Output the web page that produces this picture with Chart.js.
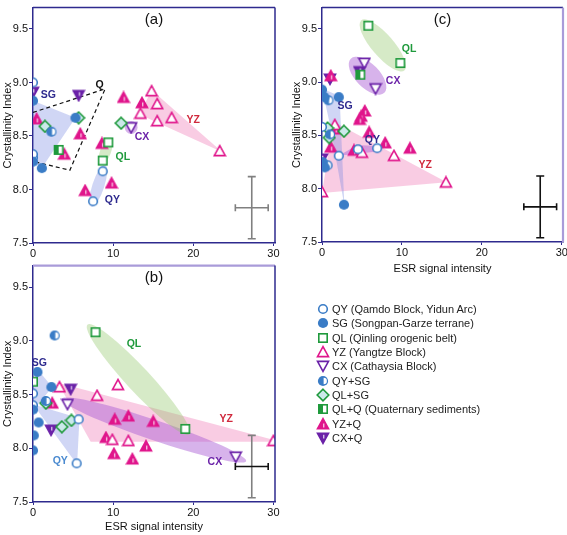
<!DOCTYPE html>
<html>
<head>
<meta charset="utf-8">
<script src="https://cdn.jsdelivr.net/npm/chart.js@4.4.1/dist/chart.umd.min.js"></script>
<style>
  body { margin: 0; background: #fff; width: 567px; height: 535px; overflow: hidden; position: relative;
         font-family: "Liberation Sans", Arial, sans-serif; }
  .panel { position: absolute; }
  #legend { position: absolute; left: 316px; top: 302px; font-size: 11px; color: #222; }
  #legend div { height: 14.3px; display: flex; align-items: center; white-space: nowrap; }
  #legend canvas { margin-right: 2px; }
</style>
</head>
<body>
<div class="panel" style="left:0;top:0"><canvas id="pa" width="285" height="258"></canvas></div>
<div class="panel" style="left:0;top:258px"><canvas id="pb" width="285" height="277"></canvas></div>
<div class="panel" style="left:289px;top:0"><canvas id="pc" width="280" height="280"></canvas></div>
<div id="legend"></div>
<script>
/* ── Colours ─────────────────────────────────────────────── */
const C = {
    blue: "#3a7cc6", green: "#1f9a3c", pink: "#e0168c", purple: "#6b22a8",
    navy: "#2e2a8e", lav: "#a99bd9", red: "#d0283c", lightBlue: "#4a8ad0",
};
const FILL = {
    blue: "rgba(112,132,226,0.33)", green: "rgba(140,196,100,0.36)",
    pink: "rgba(240,128,186,0.40)", purple: "rgba(172,96,214,0.48)",
};

/* ── Shared axis values ──────────────────────────────────── */
const X_TICKS = [0, 10, 20, 30];
const Y_TICKS = [7.5, 8.0, 8.5, 9.0, 9.5];
const GROUPS = ["SG", "QY", "QY+SG", "QL", "QL+SG", "QL+Q", "YZ", "YZ+Q", "CX", "CX+Q"];
const LEGEND_KEYS = ["QY", "SG", "QL", "YZ", "CX", "QY+SG", "QL+SG", "QL+Q", "YZ+Q", "CX+Q"];
const LEGEND_LABELS = [
    "QY (Qamdo Block, Yidun Arc)", "SG (Songpan-Garze terrane)", "QL (Qinling orogenic belt)",
    "YZ (Yangtze Block)", "CX (Cathaysia Block)", "QY+SG", "QL+SG",
    "QL+Q (Quaternary sediments)", "YZ+Q", "CX+Q",
];

/* ── Panel (a) data: [ESR, crystallinity] ────────────────── */
const aQY   = [[0, 9.0], [0, 8.33], [8.7, 8.17], [7.5, 7.89]];
const aSG   = [[0, 8.83], [5.3, 8.67], [0, 8.26], [1.1, 8.20]];
const aQYSG = [[2.3, 8.54], [0, 8.30]];
const aQL   = [[9.4, 8.44], [8.7, 8.27]];
const aQLSG = [[1.5, 8.59], [5.7, 8.67], [11.0, 8.62]];
const aQLQ  = [[3.2, 8.37]];
const aYZ   = [[14.8, 8.92], [15.5, 8.80], [13.4, 8.71], [15.5, 8.64], [17.3, 8.67], [23.3, 8.36]];
const aYZQ  = [[0.45, 8.66], [5.9, 8.52], [3.9, 8.33], [8.6, 8.43], [9.8, 8.06], [6.5, 7.99], [11.3, 8.86], [13.6, 8.81]];
const aCX   = [[12.25, 8.58]];
const aCXQ  = [[0, 8.91], [5.7, 8.88]];

/* ── Panel (b) data ──────────────────────────────────────── */
const bQY   = [[0, 8.51], [0, 8.40], [5.7, 8.27], [5.45, 7.86]];
const bSG   = [[0.55, 8.71], [2.3, 8.57], [0, 8.36], [0.7, 8.24], [0.1, 8.12], [0, 7.98]];
const bQYSG = [[2.7, 9.05], [1.6, 8.44]];
const bQL   = [[7.8, 9.08], [19.0, 8.18]];
const bQLSG = [[1.6, 8.42], [3.6, 8.20], [4.8, 8.26]];
const bQLQ  = [[0, 8.62]];
const bYZ   = [[3.3, 8.57], [8.0, 8.49], [10.6, 8.59], [9.9, 8.08], [11.9, 8.07], [30, 8.07]];
const bYZQ  = [[2.4, 8.42], [10.2, 8.27], [11.9, 8.30], [15.0, 8.25], [9.1, 8.10], [10.1, 7.95], [12.4, 7.90], [14.1, 8.02]];
const bCX   = [[4.3, 8.41], [25.3, 7.92]];
const bCXQ  = [[4.7, 8.55], [2.25, 8.17]];

/* ── Panel (c) data ──────────────────────────────────────── */
const cQY   = [[0, 8.58], [2.1, 8.31], [4.5, 8.37], [6.9, 8.38], [0.7, 8.22]];
const cSG   = [[0, 8.93], [0.3, 8.86], [2.1, 8.86], [2.75, 7.85], [0.1, 8.25], [0.35, 8.20]];
const cQYSG = [[0.8, 8.83], [1.0, 8.51]];
const cQL   = [[5.8, 9.53], [9.8, 9.18]];
const cQLSG = [[0.7, 8.57], [2.75, 8.54], [0.9, 8.48]];
const cQLQ  = [[4.8, 9.07]];
const cYZ   = [[1.6, 8.60], [5.0, 8.34], [9.0, 8.31], [15.5, 8.06], [0, 7.97]];
const cYZQ  = [[1.1, 9.06], [5.35, 8.73], [4.9, 8.68], [4.7, 8.65], [5.9, 8.53], [7.9, 8.43], [11.0, 8.38], [1.1, 8.39], [4.0, 8.36], [1.7, 8.56]];
const cCX   = [[5.3, 9.18], [6.7, 8.94]];
const cCXQ  = [[1.0, 9.03], [4.7, 9.10], [0, 8.28]];

/* ── Group outlines (data space) ─────────────────────────── */
const aRegSG = [[0, 8.83], [5.3, 8.67], [1.1, 8.20], [0, 8.26]];
const aRegYZ = [[14.8, 8.93], [13.3, 8.70], [23.6, 8.35]];
const aRegQ  = [[0, 8.72], [9.0, 8.94], [4.6, 8.18], [0.2, 8.26]];
const bRegSG = [[0.6, 8.73], [2.4, 8.57], [0, 8.35], [0, 8.62]];
const bRegQY = [[0, 8.41], [5.8, 8.28], [5.5, 7.85]];
const bRegYZ = [[3.1, 8.61], [30.4, 8.07], [30.4, 8.06], [7.2, 8.06]];
const cRegSG = [[0, 8.94], [2.2, 8.87], [2.8, 7.84], [1.0, 8.6]];
const cRegYZ = [[1.4, 8.63], [15.6, 8.06], [0, 7.96]];
const cRegQY = [[2.1, 8.31], [4.4, 8.41], [6.9, 8.40], [6.9, 8.35]];

/* ── Error bar (typical uncertainty) ─────────────────────── */
const ERR_X = 27.3, ERR_Y = 7.83, ERR_DX = 2.05, ERR_DY = 0.29;

/* ── Marker images ───────────────────────────────────────── */
function makeMarker(kind) {
    const c = document.createElement("canvas");
    c.width = 14; c.height = 14;
    const g = c.getContext("2d");
    g.lineWidth = 1.6;
    const tri = (up) => {
        g.beginPath();
        if (up) { g.moveTo(7, 1.6); g.lineTo(1.5, 11.6); g.lineTo(12.5, 11.6); }
        else { g.moveTo(7, 12.4); g.lineTo(1.5, 2.4); g.lineTo(12.5, 2.4); }
        g.closePath();
    };
    switch (kind) {
        case "QY":
            g.beginPath(); g.arc(7, 7, 4.3, 0, Math.PI * 2);
            g.fillStyle = "#fff"; g.fill(); g.strokeStyle = C.blue; g.stroke(); break;
        case "SG":
            g.beginPath(); g.arc(7, 7, 5.1, 0, Math.PI * 2); g.fillStyle = C.blue; g.fill(); break;
        case "QY+SG":
            g.beginPath(); g.arc(7, 7, 5.1, 0, Math.PI * 2); g.fillStyle = C.blue; g.fill();
            g.beginPath(); g.arc(7.6, 7, 3.3, -Math.PI / 2, Math.PI / 2); g.closePath();
            g.fillStyle = "#fff"; g.fill(); break;
        case "QL":
            g.fillStyle = "#fff"; g.fillRect(2.8, 2.8, 8.4, 8.4);
            g.strokeStyle = C.green; g.strokeRect(2.8, 2.8, 8.4, 8.4); break;
        case "QL+Q":
            g.fillStyle = "#fff"; g.fillRect(2.8, 2.8, 8.4, 8.4);
            g.fillStyle = C.green; g.fillRect(2.8, 2.8, 4.2, 8.4);
            g.strokeStyle = C.green; g.strokeRect(2.8, 2.8, 8.4, 8.4); break;
        case "QL+SG":
            g.beginPath(); g.moveTo(7, 1.2); g.lineTo(12.8, 7); g.lineTo(7, 12.8); g.lineTo(1.2, 7); g.closePath();
            g.fillStyle = "#cbe9ea"; g.fill(); g.strokeStyle = C.green; g.stroke(); break;
        case "YZ":
            tri(true); g.fillStyle = "#fff"; g.fill(); g.strokeStyle = C.pink; g.stroke(); break;
        case "YZ+Q":
            tri(true); g.fillStyle = C.pink; g.fill(); g.strokeStyle = C.pink; g.stroke();
            g.strokeStyle = "#fff"; g.lineWidth = 1; g.beginPath(); g.moveTo(7.8, 6.5); g.lineTo(7.8, 10.5); g.stroke(); break;
        case "CX":
            tri(false); g.fillStyle = "#fff"; g.fill(); g.strokeStyle = C.purple; g.stroke(); break;
        case "CX+Q":
            tri(false); g.fillStyle = C.purple; g.fill(); g.strokeStyle = C.purple; g.stroke();
            g.strokeStyle = "#fff"; g.lineWidth = 1; g.beginPath(); g.moveTo(7.8, 3.8); g.lineTo(7.8, 7.5); g.stroke(); break;
    }
    return c;
}
const MARKERS = {};
GROUPS.forEach(k => { MARKERS[k] = makeMarker(k); });

/* ── Decorations per panel (regions, labels, error bar, frame) ── */
const DECO = {
    pa: {
        title: "(a)",
        regions: [
            { type: "poly", pts: aRegSG, color: FILL.blue },
            { type: "poly", pts: aRegYZ, color: FILL.pink },
            { type: "ellipse", a: [7.3, 7.84], b: [9.0, 8.23], ry: 6, color: FILL.blue },
            { type: "ellipse", a: [8.5, 8.24], b: [9.6, 8.47], ry: 5.5, color: FILL.green },
            { type: "ellipse", a: [11.45, 8.58], b: [13.05, 8.58], ry: 6.5, color: FILL.purple },
        ],
        dashed: aRegQ,
        labels: [
            { text: "SG", at: [1.9, 8.88], color: C.navy },
            { text: "Q", at: [8.3, 8.98], color: "#111" },
            { text: "YZ", at: [20.0, 8.65], color: C.red },
            { text: "CX", at: [13.6, 8.49], color: C.purple },
            { text: "QL", at: [11.2, 8.30], color: C.green },
            { text: "QY", at: [9.9, 7.90], color: C.navy },
        ],
        errH: "#808080", errV: "#808080",
        top: C.navy, right: C.navy,
    },
    pb: {
        title: "(b)",
        regions: [
            { type: "poly", pts: bRegSG, color: FILL.blue },
            { type: "poly", pts: bRegQY, color: FILL.blue },
            { type: "poly", pts: bRegYZ, color: FILL.pink },
            { type: "ellipse", a: [3.6, 8.46], b: [26.6, 7.88], ry: 10, color: FILL.purple },
            { type: "ellipse", a: [6.8, 9.15], b: [19.5, 8.13], ry: 12, color: FILL.green },
        ],
        labels: [
            { text: "SG", at: [0.8, 8.79], color: C.navy },
            { text: "QL", at: [12.6, 8.97], color: C.green },
            { text: "YZ", at: [24.1, 8.27], color: C.red },
            { text: "CX", at: [22.7, 7.87], color: C.purple },
            { text: "QY", at: [3.4, 7.88], color: C.lightBlue },
        ],
        errH: "#111", errV: "#808080",
        top: C.lav, right: C.navy,
    },
    pc: {
        title: "(c)",
        regions: [
            { type: "poly", pts: cRegYZ, color: FILL.pink },
            { type: "poly", pts: cRegSG, color: FILL.blue },
            { type: "poly", pts: cRegQY, color: FILL.purple },
            { type: "ellipse", a: [4.9, 9.58], b: [10.3, 9.11], ry: 11, color: FILL.green },
            { type: "ellipse", a: [3.6, 9.22], b: [7.8, 8.90], ry: 12, color: FILL.purple },
        ],
        labels: [
            { text: "QL", at: [10.9, 9.31], color: C.green },
            { text: "CX", at: [8.9, 9.01], color: C.purple },
            { text: "SG", at: [2.9, 8.78], color: C.navy },
            { text: "QY", at: [6.3, 8.46], color: C.navy },
            { text: "YZ", at: [12.9, 8.22], color: C.red },
        ],
        errH: "#111", errV: "#111",
        top: C.navy, right: C.lav,
    },
};

const decoPlugin = {
    id: "deco",
    beforeDatasetsDraw(chart) {
        const d = DECO[chart.canvas.id];
        const { ctx, chartArea: a, scales: { x, y } } = chart;
        const px = p => [x.getPixelForValue(p[0]), y.getPixelForValue(p[1])];
        ctx.save();
        ctx.beginPath(); ctx.rect(a.left, a.top, a.width, a.height); ctx.clip();
        for (const r of d.regions) {
            ctx.fillStyle = r.color;
            ctx.beginPath();
            if (r.type === "poly") {
                r.pts.forEach((p, i) => { const [X, Y] = px(p); i ? ctx.lineTo(X, Y) : ctx.moveTo(X, Y); });
                ctx.closePath();
            } else {
                const [x1, y1] = px(r.a), [x2, y2] = px(r.b);
                ctx.ellipse((x1 + x2) / 2, (y1 + y2) / 2, Math.hypot(x2 - x1, y2 - y1) / 2, r.ry,
                    Math.atan2(y2 - y1, x2 - x1), 0, Math.PI * 2);
            }
            ctx.fill();
        }
        if (d.dashed) {
            ctx.setLineDash([4, 3]); ctx.lineWidth = 1.2; ctx.strokeStyle = "#111";
            ctx.beginPath();
            d.dashed.forEach((p, i) => { const [X, Y] = px(p); i ? ctx.lineTo(X, Y) : ctx.moveTo(X, Y); });
            ctx.stroke();
        }
        ctx.restore();
    },
    afterDatasetsDraw(chart) {
        const d = DECO[chart.canvas.id];
        const { ctx, chartArea: a, scales: { x, y } } = chart;
        ctx.save();
        // group labels
        ctx.font = "bold 10.5px 'Liberation Sans', Arial, sans-serif";
        ctx.textAlign = "center"; ctx.textBaseline = "middle";
        for (const l of d.labels) {
            ctx.fillStyle = l.color;
            ctx.fillText(l.text, x.getPixelForValue(l.at[0]), y.getPixelForValue(l.at[1]));
        }
        // panel letter
        ctx.font = "15px 'Liberation Sans', Arial, sans-serif";
        ctx.fillStyle = "#111";
        ctx.fillText(d.title, (a.left + a.right) / 2, a.top + 12);
        // error cross
        const cx = x.getPixelForValue(ERR_X), cy = y.getPixelForValue(ERR_Y);
        const x0 = x.getPixelForValue(ERR_X - ERR_DX), x1 = x.getPixelForValue(ERR_X + ERR_DX);
        const y0 = y.getPixelForValue(ERR_Y + ERR_DY), y1 = y.getPixelForValue(ERR_Y - ERR_DY);
        ctx.lineWidth = 1.6;
        ctx.strokeStyle = d.errV;
        ctx.beginPath();
        ctx.moveTo(cx, y0); ctx.lineTo(cx, y1);
        ctx.moveTo(cx - 4, y0); ctx.lineTo(cx + 4, y0);
        ctx.moveTo(cx - 4, y1); ctx.lineTo(cx + 4, y1);
        ctx.stroke();
        ctx.strokeStyle = d.errH;
        ctx.beginPath();
        ctx.moveTo(x0, cy); ctx.lineTo(x1, cy);
        ctx.moveTo(x0, cy - 3.5); ctx.lineTo(x0, cy + 3.5);
        ctx.moveTo(x1, cy - 3.5); ctx.lineTo(x1, cy + 3.5);
        ctx.stroke();
        ctx.restore();
    },
    afterDraw(chart) {
        const d = DECO[chart.canvas.id];
        const { ctx, chartArea: a } = chart;
        ctx.save();
        ctx.lineWidth = d.top === C.lav ? 2.2 : 1.5;
        ctx.strokeStyle = d.top;
        ctx.beginPath(); ctx.moveTo(a.left, a.top); ctx.lineTo(a.right, a.top); ctx.stroke();
        ctx.lineWidth = d.right === C.lav ? 2.2 : 1.5;
        ctx.strokeStyle = d.right;
        ctx.beginPath(); ctx.moveTo(a.right, a.top); ctx.lineTo(a.right, a.bottom); ctx.stroke();
        ctx.restore();
    },
};

/* ── Chart builder ───────────────────────────────────────── */
const TICK_FONT = { family: "'Liberation Sans', Arial, sans-serif", size: 11 };

function buildPanel(id, sets, opt) {
    const datasets = GROUPS.map(k => ({
        label: k,
        data: sets[k].map(([vx, vy]) => ({ x: vx, y: vy })),
        pointStyle: MARKERS[k],
        pointRadius: 5,
    }));
    return new Chart(document.getElementById(id), {
        type: "scatter",
        data: { datasets },
        options: {
            responsive: false,
            animation: false,
            layout: { padding: { top: opt.padTop, right: opt.padRight, left: 0, bottom: 0 } },
            plugins: { legend: { display: false }, tooltip: { enabled: false } },
            scales: {
                x: {
                    type: "linear", min: 0, max: opt.xMax,
                    afterBuildTicks: s => { s.ticks = X_TICKS.map(v => ({ value: v })); },
                    afterFit: s => { s.height = opt.xHeight; },
                    border: { color: C.navy, width: 1.5 },
                    grid: { drawOnChartArea: false, tickLength: 3, color: C.navy },
                    ticks: { color: "#111", font: TICK_FONT, padding: 1, maxRotation: 0 },
                    title: {
                        display: opt.xTitle, text: "ESR signal intensity", color: "#111",
                        font: { family: TICK_FONT.family, size: 11 }, padding: { top: 0, bottom: opt.xTitlePad },
                    },
                },
                y: {
                    type: "linear", min: 7.5, max: 9.7,
                    afterBuildTicks: s => { s.ticks = Y_TICKS.map(v => ({ value: v })); },
                    afterFit: s => { s.width = 33; },
                    border: { color: C.navy, width: 1.5 },
                    grid: { drawOnChartArea: false, tickLength: 4, color: C.navy },
                    ticks: { color: "#111", font: TICK_FONT, padding: 1, callback: v => v.toFixed(1) },
                    title: {
                        display: true, text: "Crystallinity Index", color: "#111",
                        font: { family: TICK_FONT.family, size: 11 }, padding: { top: 1, bottom: 0 },
                    },
                },
            },
        },
        plugins: [decoPlugin],
    });
}

buildPanel("pa", {
    "QY": aQY, "SG": aSG, "QY+SG": aQYSG, "QL": aQL, "QL+SG": aQLSG, "QL+Q": aQLQ,
    "YZ": aYZ, "YZ+Q": aYZQ, "CX": aCX, "CX+Q": aCXQ,
}, { xMax: 30.2, padTop: 1, padRight: 10, xHeight: 15, xTitle: false, xTitlePad: 0 });

buildPanel("pb", {
    "QY": bQY, "SG": bSG, "QY+SG": bQYSG, "QL": bQL, "QL+SG": bQLSG, "QL+Q": bQLQ,
    "YZ": bYZ, "YZ+Q": bYZQ, "CX": bCX, "CX+Q": bCXQ,
}, { xMax: 30.2, padTop: 2, padRight: 10, xHeight: 33, xTitle: true, xTitlePad: 1 });

buildPanel("pc", {
    "QY": cQY, "SG": cSG, "QY+SG": cQYSG, "QL": cQL, "QL+SG": cQLSG, "QL+Q": cQLQ,
    "YZ": cYZ, "YZ+Q": cYZQ, "CX": cCX, "CX+Q": cCXQ,
}, { xMax: 30.15, padTop: 1, padRight: 5, xHeight: 38, xTitle: true, xTitlePad: 4 });

/* ── Legend (HTML text, canvas markers) ──────────────────── */
const legend = document.getElementById("legend");
LEGEND_KEYS.forEach((k, i) => {
    const row = document.createElement("div");
    row.appendChild(makeMarker(k));
    row.appendChild(document.createTextNode(LEGEND_LABELS[i]));
    legend.appendChild(row);
});
</script>
</body>
</html>
